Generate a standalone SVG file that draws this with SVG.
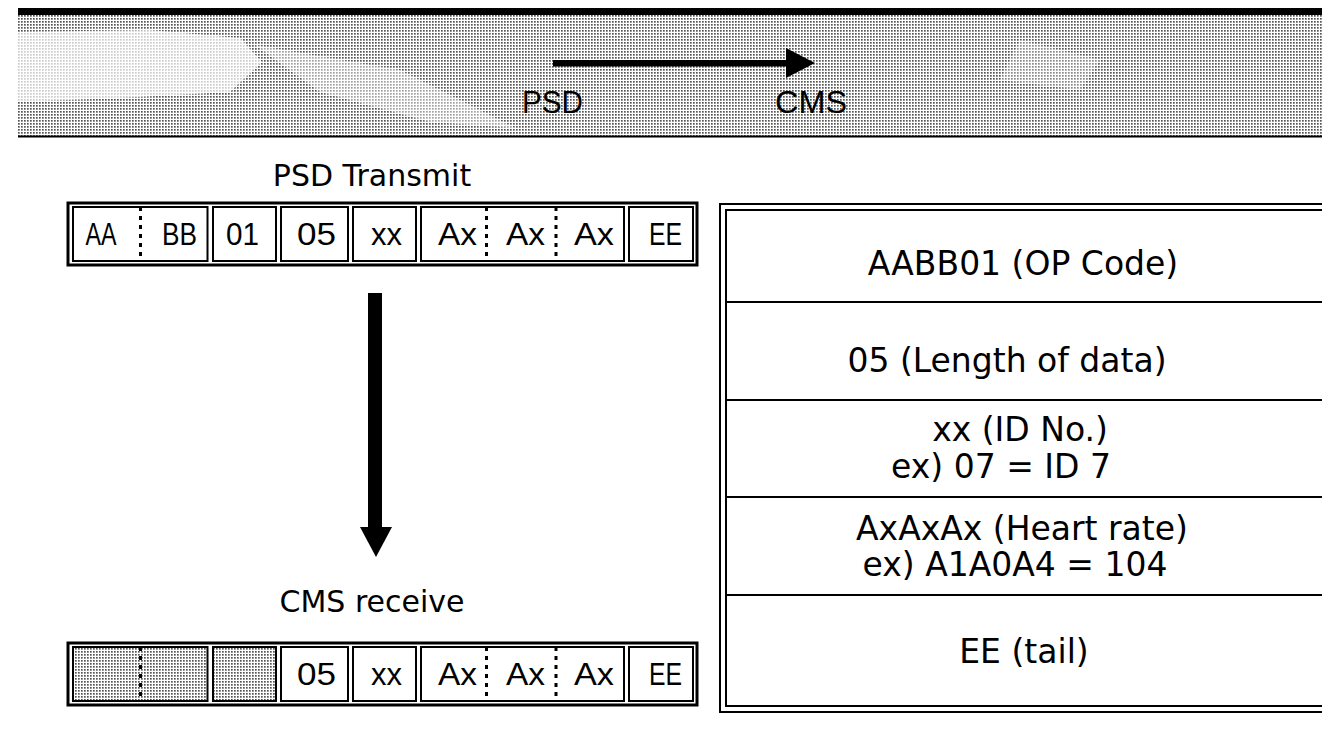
<svg xmlns="http://www.w3.org/2000/svg" width="1338" height="737" viewBox="0 0 1338 737">
<style>
.box{fill:none;stroke:#000;stroke-width:3}
.cell{fill:#fff;stroke:#000;stroke-width:2}
.gcell{fill:url(#dots);stroke:#000;stroke-width:2}
.sep{stroke:#000;stroke-width:3;stroke-dasharray:4 5}
.ct{font-family:"Liberation Sans",Arial,sans-serif;font-size:32px;text-anchor:middle;fill:#000}
.tt{font-family:"DejaVu Sans",sans-serif;font-size:33px;text-anchor:middle;fill:#000}
.ti{font-family:"DejaVu Sans",sans-serif;font-size:30px;text-anchor:middle;fill:#000}
.ln{stroke:#000;stroke-width:2;fill:none}
</style>
<defs>
<pattern id="dots" width="3" height="3" patternUnits="userSpaceOnUse">
<rect width="3" height="3" fill="#fff"/>
<rect width="1.7" height="1.7" fill="#555"/>
</pattern>
</defs>
<rect width="1338" height="737" fill="#fff"/>
<g id="band">
<rect x="18" y="15" width="1304" height="121" fill="url(#dots)"/>
<path d="M18 32 L150 30 L240 38 L262 62 L230 92 L120 98 L18 102 Z" fill="#fff" opacity="0.7"/>
<path d="M255 45 L400 70 L470 105 L515 128 L430 122 L320 92 Z" fill="#fff" opacity="0.45"/>
<path d="M1020 40 L1100 60 L1080 90 L1000 80 Z" fill="#fff" opacity="0.3"/>
<rect x="18" y="8" width="1304" height="7" fill="#000"/>
<line x1="18" y1="136.5" x2="1322" y2="136.5" stroke="#000" stroke-width="2"/>
<text id="lbl-psd" x="552.5" y="113" class="ct" font-size="36" textLength="61" lengthAdjust="spacingAndGlyphs">PSD</text>
<text id="lbl-cms" x="811" y="113" class="ct" font-size="36" textLength="72" lengthAdjust="spacingAndGlyphs">CMS</text>
</g>
<g id="connectors">
<rect x="553" y="60" width="236" height="6.5"/>
<polygon points="786,48 815,63 786,78"/>
<rect x="368" y="293" width="14" height="236"/>
<polygon points="360,527 392,527 376,557"/>
</g>
<g id="psd-transmit">
<text x="372" y="186" class="ti">PSD Transmit</text>
<rect class="box" x="68" y="203" width="629" height="62"/>
<rect class="cell" x="73" y="207" width="134.5" height="54"/>
<rect class="cell" x="213" y="207" width="63" height="54"/>
<rect class="cell" x="281" y="207" width="67" height="54"/>
<rect class="cell" x="353" y="207" width="63" height="54"/>
<rect class="cell" x="421" y="207" width="203" height="54"/>
<rect class="cell" x="629" y="207" width="64" height="54"/>
<line class="sep" x1="140.5" y1="207" x2="140.5" y2="261"/>
<line class="sep" x1="486.5" y1="207" x2="486.5" y2="261"/>
<line class="sep" x1="556" y1="207" x2="556" y2="261"/>
<text class="ct" x="101" y="245" textLength="31" lengthAdjust="spacingAndGlyphs">AA</text>
<text class="ct" x="179.5" y="245" textLength="35" lengthAdjust="spacingAndGlyphs">BB</text>
<text class="ct" x="242.5" y="245" textLength="33" lengthAdjust="spacingAndGlyphs">01</text>
<text class="ct" x="316.5" y="245" textLength="39" lengthAdjust="spacingAndGlyphs">05</text>
<text class="ct" x="386.5" y="245" textLength="31" lengthAdjust="spacingAndGlyphs">xx</text>
<text class="ct" x="457.5" y="245" textLength="39" lengthAdjust="spacingAndGlyphs">Ax</text>
<text class="ct" x="525.5" y="245" textLength="39" lengthAdjust="spacingAndGlyphs">Ax</text>
<text class="ct" x="594" y="245" textLength="40" lengthAdjust="spacingAndGlyphs">Ax</text>
<text class="ct" x="665.5" y="245" textLength="33" lengthAdjust="spacingAndGlyphs">EE</text>
</g>
<g id="cms-receive">
<text x="372" y="612" class="ti">CMS receive</text>
<rect class="box" x="68" y="643" width="629" height="62"/>
<rect class="gcell" x="73" y="647" width="134.5" height="54"/>
<rect class="gcell" x="213" y="647" width="63" height="54"/>
<rect class="cell" x="281" y="647" width="67" height="54"/>
<rect class="cell" x="353" y="647" width="63" height="54"/>
<rect class="cell" x="421" y="647" width="203" height="54"/>
<rect class="cell" x="629" y="647" width="64" height="54"/>
<line class="sep" x1="140.5" y1="647" x2="140.5" y2="701"/>
<line class="sep" x1="486.5" y1="647" x2="486.5" y2="701"/>
<line class="sep" x1="556" y1="647" x2="556" y2="701"/>
<text class="ct" x="316.5" y="685" textLength="39" lengthAdjust="spacingAndGlyphs">05</text>
<text class="ct" x="386.5" y="685" textLength="31" lengthAdjust="spacingAndGlyphs">xx</text>
<text class="ct" x="457.5" y="685" textLength="39" lengthAdjust="spacingAndGlyphs">Ax</text>
<text class="ct" x="525.5" y="685" textLength="39" lengthAdjust="spacingAndGlyphs">Ax</text>
<text class="ct" x="594" y="685" textLength="40" lengthAdjust="spacingAndGlyphs">Ax</text>
<text class="ct" x="665.5" y="685" textLength="33" lengthAdjust="spacingAndGlyphs">EE</text>
</g>
<g id="legend-table">
<path class="ln" d="M1322 204 H720 V712 H1322"/>
<path class="ln" d="M1322 210 H726 V706 H1322"/>
<line class="ln" x1="726" y1="302" x2="1322" y2="302"/>
<line class="ln" x1="726" y1="400" x2="1322" y2="400"/>
<line class="ln" x1="726" y1="497" x2="1322" y2="497"/>
<line class="ln" x1="726" y1="595" x2="1322" y2="595"/>
<text class="tt" x="1023" y="275">AABB01 (OP Code)</text>
<text class="tt" x="1007" y="372">05 (Length of data)</text>
<text class="tt" x="1020" y="441">xx (ID No.)</text>
<text class="tt" x="1001" y="478">ex) 07 = ID 7</text>
<text class="tt" x="1022" y="540">AxAxAx (Heart rate)</text>
<text class="tt" x="1015" y="576">ex) A1A0A4 = 104</text>
<text class="tt" x="1024" y="663">EE (tail)</text>
</g>
</svg>
